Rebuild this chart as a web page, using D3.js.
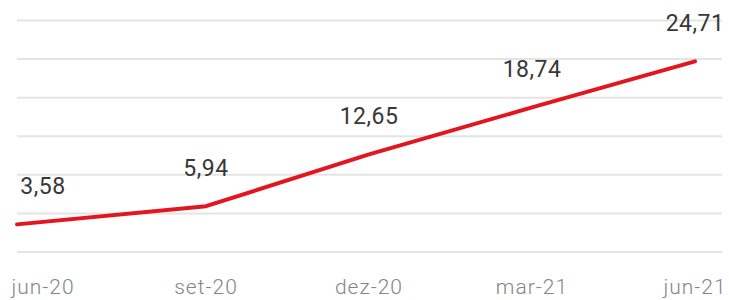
<!DOCTYPE html>
<html>
<head>
<meta charset="utf-8">
<script src="https://cdn.jsdelivr.net/npm/d3@7"></script>
<style>
  html, body { margin: 0; padding: 0; background: #fff; }
  svg { display: block; }
</style>
</head>
<body>
<script>
// data
const months = ["jun-20", "set-20", "dez-20", "mar-21", "jun-21"];
const values = [3.58, 5.94, 12.65, 18.74, 24.71];
const valueLabels = ["3,58", "5,94", "12,65", "18,74", "24,71"];
const gridTicks = [0, 5, 10, 15, 20, 25, 30];
// ----------

const w = 729;
const h = 300;
const p = { t: 20.5, r: 7, b: 48, l: 17 };

const svg = d3.select("body")
  .append("svg")
  .attr("width", w)
  .attr("height", h);

// scales
const x = d3.scalePoint()
  .domain(months)
  .range([43, 695]);

const y = d3.scaleLinear()
  .domain([0, 30])
  .range([h - p.b, p.t]);
// ----------

// gridlines
svg.append("g")
  .selectAll("line")
  .data(gridTicks)
  .enter()
  .append("line")
  .attr("x1", p.l)
  .attr("x2", w - p.r)
  .attr("y1", d => y(d))
  .attr("y2", d => y(d))
  .attr("stroke", "#e4e4e4")
  .attr("stroke-width", 2);

// x axis labels
svg.append("g")
  .selectAll("text")
  .data(months)
  .enter()
  .append("text")
  .text(d => d)
  .attr("x", d => x(d))
  .attr("y", 294)
  .attr("text-anchor", "middle")
  .attr("font-family", "Roboto, sans-serif")
  .attr("font-weight", 300)
  .attr("font-size", 21)
  .attr("letter-spacing", 1)
  .attr("fill", "#858585");

// line (first point leads in from the left edge of the grid)
const series = months.map((m, i) => ({ month: m, value: values[i], label: valueLabels[i] }));
const line = d3.line()
  .x((d, i) => i === 0 ? p.l : x(d.month))
  .y(d => y(d.value));

svg.append("path")
  .datum(series)
  .attr("d", line)
  .attr("fill", "none")
  .attr("stroke", "#e3151f")
  .attr("stroke-width", 4)
  .attr("stroke-linejoin", "round")
  .attr("stroke-linecap", "round");

// value labels
svg.append("g")
  .selectAll("text")
  .data(series)
  .enter()
  .append("text")
  .text(d => d.label)
  .attr("x", d => x(d.month))
  .attr("y", d => y(d.value) - 30)
  .attr("text-anchor", "middle")
  .attr("font-family", "Roboto, sans-serif")
  .attr("font-size", 23)
  .attr("letter-spacing", 0.5)
  .attr("fill", "#383838");
</script>
</body>
</html>
